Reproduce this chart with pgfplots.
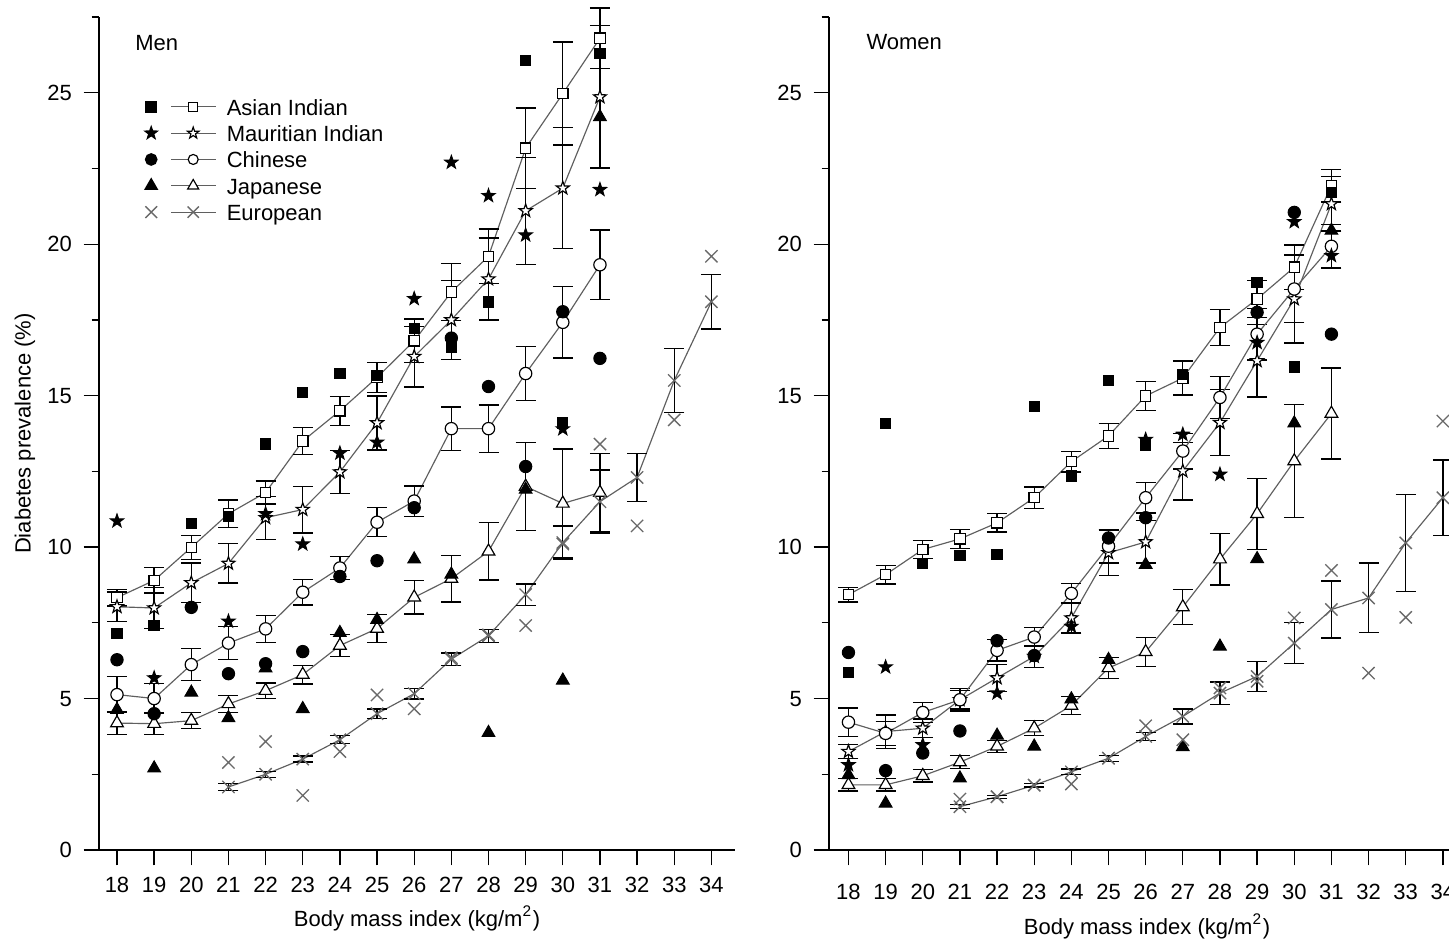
\documentclass[border=0pt]{standalone}
\usepackage{fontspec}
\setmainfont{Liberation Sans}
\usepackage{pgfplots}
\pgfplotsset{compat=1.18}
\definecolor{linegray}{RGB}{95,95,95}
\definecolor{eurgray}{RGB}{105,105,105}
\newcommand{\fs}{\fontsize{6.6}{7.5}\selectfont}
\pgfdeclareplotmark{pstar}{%
  \pgfpathmoveto{\pgfpointpolar{90}{\pgfplotmarksize}}%
  \pgfpathlineto{\pgfpointpolar{126}{0.40\pgfplotmarksize}}%
  \pgfpathlineto{\pgfpointpolar{162}{\pgfplotmarksize}}%
  \pgfpathlineto{\pgfpointpolar{198}{0.40\pgfplotmarksize}}%
  \pgfpathlineto{\pgfpointpolar{234}{\pgfplotmarksize}}%
  \pgfpathlineto{\pgfpointpolar{270}{0.40\pgfplotmarksize}}%
  \pgfpathlineto{\pgfpointpolar{306}{\pgfplotmarksize}}%
  \pgfpathlineto{\pgfpointpolar{342}{0.40\pgfplotmarksize}}%
  \pgfpathlineto{\pgfpointpolar{18}{\pgfplotmarksize}}%
  \pgfpathlineto{\pgfpointpolar{54}{0.40\pgfplotmarksize}}%
  \pgfpathclose
  \pgfusepathqfillstroke
}
\pgfplotsset{
  panel/.style={
    scale only axis, width=190.8pt, height=249.9pt,
    ymin=0, ymax=27.5,
    axis x line*=bottom, axis y line*=left,
    axis line style={line width=0.45pt},
    tick align=outside, major tick length=4.6pt, minor tick length=2.2pt,
    tick style={black, line width=0.4pt},
    xtick={18,...,34}, ytick={0,5,...,25}, minor ytick={2.5,7.5,...,27.5},
    tick label style={font=\fs},
    /pgf/number format/assume math mode=true,
    label style={font=\fs},
    xlabel={Body mass index (kg/m\textsuperscript{2})},
    clip=false,
  },
  openser/.style={linegray, line width=0.35pt,
     mark options={solid, draw=black, fill=white, line width=0.35pt},
     error bars/y dir=both, error bars/y explicit,
     error bars/error bar style={black, line width=0.4pt},
     error bars/error mark options={black, line width=0.4pt, mark size=3pt, rotate=90}},
  dots/.style={only marks, mark options={draw=black, fill=black, line width=0.3pt}},
  mAI/.style={mark=square*, mark size=1.55pt},
  mMI/.style={mark=pstar, mark size=2.05pt},
  mCH/.style={mark=*, mark size=1.85pt},
  mJP/.style={mark=triangle*, mark size=2.2pt},
  mEU/.style={mark=x, mark size=2.6pt},
}
\begin{document}
\begin{tikzpicture}
% ---------------- MEN ----------------
\begin{axis}[panel, at={(29.7pt,26.7pt)}, anchor=south west,
  xmin=17.5155, xmax=34.635,
  ylabel={Diabetes prevalence (\%)},
  ylabel style={at={(axis description cs:-0.1164,0.5)}, anchor=center},
  xlabel style={at={(axis description cs:0.5,-0.0816)}, anchor=center},
  legend style={draw=none, fill=none, at={(axis description cs:0.0715,0.903)}, anchor=north west,
     inner sep=0pt, font=\fs, row sep=2.9pt, column sep=3.0pt,
     nodes={inner sep=0pt, text height=5pt, text depth=0pt}},
  legend cell align=left]
\addlegendimage{legend image code/.code={
  \draw[mark=square*, mark size=1.55pt, mark options={fill=black, draw=black}] plot coordinates {(0pt,0pt)};
  \draw[linegray, line width=0.35pt] (6pt,0pt) -- (19.5pt,0pt);
  \draw[mark=square*, mark size=1.3pt, mark options={fill=white, draw=black, line width=0.35pt}] plot coordinates {(12.6pt,0pt)};}}
\addlegendentry{Asian Indian}
\addlegendimage{legend image code/.code={
  \draw[mark=pstar, mark size=1.9pt, mark options={fill=black, draw=black}] plot coordinates {(0pt,0pt)};
  \draw[linegray, line width=0.35pt] (6pt,0pt) -- (19.5pt,0pt);
  \draw[mark=pstar, mark size=1.8pt, mark options={fill=white, draw=black, line width=0.35pt}] plot coordinates {(12.6pt,0pt)};}}
\addlegendentry{Mauritian Indian}
\addlegendimage{legend image code/.code={
  \draw[mark=*, mark size=1.7pt, mark options={fill=black, draw=black}] plot coordinates {(0pt,0pt)};
  \draw[linegray, line width=0.35pt] (6pt,0pt) -- (19.5pt,0pt);
  \draw[mark=*, mark size=1.5pt, mark options={fill=white, draw=black, line width=0.35pt}] plot coordinates {(12.6pt,0pt)};}}
\addlegendentry{Chinese}
\addlegendimage{legend image code/.code={
  \draw[mark=triangle*, mark size=2.1pt, mark options={fill=black, draw=black}] plot coordinates {(0pt,0pt)};
  \draw[linegray, line width=0.35pt] (6pt,0pt) -- (19.5pt,0pt);
  \draw[mark=triangle*, mark size=1.9pt, mark options={fill=white, draw=black, line width=0.35pt}] plot coordinates {(12.6pt,0pt)};}}
\addlegendentry{Japanese}
\addlegendimage{legend image code/.code={
  \draw[mark=x, mark size=2.5pt, mark options={draw=eurgray, line width=0.4pt}] plot coordinates {(0pt,0pt)};
  \draw[linegray, line width=0.35pt] (6pt,0pt) -- (19.5pt,0pt);
  \draw[mark=x, mark size=2.4pt, mark options={draw=eurgray, line width=0.4pt}] plot coordinates {(12.6pt,0pt)};}}
\addlegendentry{European}

% open series with error bars (Men)
\addplot[openser, mAI, forget plot] coordinates {
 (18,8.33) +- (0,0.27) (19,8.90) +- (0,0.42) (20,9.99) +- (0,0.40) (21,11.10) +- (0,0.45)
 (22,11.80) +- (0,0.38) (23,13.50) +- (0,0.44) (24,14.50) +- (0,0.48) (25,15.60) +- (0,0.50)
 (26,16.81) +- (0,0.72) (27,18.42) +- (0,0.95) (28,19.60) +- (0,0.90) (29,23.17) +- (0,1.33)
 (30,24.97) +- (0,1.70) (31,26.80) +- (0,1.00)};
\addplot[openser, mMI, forget plot] coordinates {
 (18,8.03) +- (0,0.49) (19,7.99) +- (0,0.68) (20,8.82) +- (0,0.66) (21,9.46) +- (0,0.65)
 (22,10.97) +- (0,0.71) (23,11.24) +- (0,0.77) (24,12.48) +- (0,0.70) (25,14.10) +- (0,0.89)
 (26,16.29) +- (0,1.00) (27,17.50) +- (0,1.30) (28,18.85) +- (0,1.35) (29,21.10) +- (0,1.77)
 (30,21.85) +- (0,2.00) (31,24.86) +- (0,2.35)};
\addplot[openser, mCH, forget plot] coordinates {
 (18,5.13) +- (0,0.60) (19,5.00) +- (0,0.50) (20,6.12) +- (0,0.53) (21,6.83) +- (0,0.55)
 (22,7.30) +- (0,0.44) (23,8.51) +- (0,0.42) (24,9.31) +- (0,0.37) (25,10.82) +- (0,0.48)
 (26,11.52) +- (0,0.50) (27,13.91) +- (0,0.72) (28,13.91) +- (0,0.78) (29,15.73) +- (0,0.90)
 (30,17.42) +- (0,1.18) (31,19.32) +- (0,1.15)};
\addplot[openser, mJP, forget plot] coordinates {
 (18,4.19) +- (0,0.37) (19,4.17) +- (0,0.35) (20,4.27) +- (0,0.26) (21,4.82) +- (0,0.28)
 (22,5.26) +- (0,0.25) (23,5.79) +- (0,0.31) (24,6.75) +- (0,0.36) (25,7.31) +- (0,0.46)
 (26,8.34) +- (0,0.55) (27,8.96) +- (0,0.77) (28,9.86) +- (0,0.95) (29,12.00) +- (0,1.46)
 (30,11.44) +- (0,1.80) (31,11.80) +- (0,1.30)};
\addplot[openser, mEU, mark options={draw=eurgray, line width=0.4pt}, forget plot] coordinates {
 (21,2.08) +- (0,0.12) (22,2.50) +- (0,0.10) (23,3.00) +- (0,0.10) (24,3.64) +- (0,0.13)
 (25,4.50) +- (0,0.15) (26,5.16) +- (0,0.17) (27,6.30) +- (0,0.20) (28,7.07) +- (0,0.22)
 (29,8.43) +- (0,0.35) (30,10.15) +- (0,0.55) (31,11.50) +- (0,1.05) (32,12.30) +- (0,0.80)
 (33,15.50) +- (0,1.05) (34,18.10) +- (0,0.90)};
% filled markers (Men)
\addplot[dots, mAI, forget plot] coordinates {
 (18,7.14) (19,7.41) (20,10.77) (21,11.0) (22,13.4) (23,15.1) (24,15.72) (25,15.67)
 (26,17.22) (27,16.6) (28,18.09) (29,26.06) (30,14.1) (31,26.3)};
\addplot[dots, mMI, mark size=2.1pt, forget plot] coordinates {
 (18,10.86) (19,5.68) (21,7.55) (22,11.1) (23,10.1) (24,13.1) (25,13.46)
 (26,18.2) (27,22.7) (28,21.6) (29,20.3) (30,13.9) (31,21.8)};
\addplot[dots, mCH, forget plot] coordinates {
 (18,6.28) (19,4.5) (20,8.01) (21,5.82) (22,6.15) (23,6.55) (24,9.03) (25,9.55)
 (26,11.3) (27,16.9) (28,15.3) (29,12.66) (30,17.77) (31,16.23)};
\addplot[dots, mJP, forget plot] coordinates {
 (18,4.63) (19,2.7) (20,5.2) (21,4.36) (22,6.0) (23,4.66) (24,7.17) (25,7.6)
 (26,9.6) (27,9.1) (28,3.87) (29,11.9) (30,5.6) (31,24.2)};
\addplot[only marks, mEU, mark options={draw=eurgray, line width=0.4pt}, forget plot] coordinates {
 (21,2.89) (22,3.58) (23,1.8) (24,3.25) (25,5.12) (26,4.66) (27,6.35) (28,7.1)
 (29,7.41) (30,10.1) (31,13.4) (32,10.7) (33,14.2) (34,19.6)};
\node[anchor=west, inner sep=0pt, font=\fs] at (axis description cs:0.056,0.969) {Men};
\end{axis}

% ---------------- WOMEN ----------------
\begin{axis}[panel, at={(248.7pt,26.7pt)}, anchor=south west,
  xmin=17.476, xmax=34.596,
  xticklabel style={yshift=-2.1pt},
  xlabel style={at={(axis description cs:0.5,-0.0912)}, anchor=center}]
\addplot[openser, mAI, forget plot] coordinates {
 (18,8.43) +- (0,0.24) (19,9.09) +- (0,0.31) (20,9.92) +- (0,0.30) (21,10.27) +- (0,0.32)
 (22,10.80) +- (0,0.30) (23,11.63) +- (0,0.35) (24,12.82) +- (0,0.34) (25,13.67) +- (0,0.41)
 (26,14.99) +- (0,0.48) (27,15.58) +- (0,0.56) (28,17.25) +- (0,0.60) (29,18.19) +- (0,0.62)
 (30,19.24) +- (0,0.73) (31,21.93) +- (0,0.54)};
\addplot[openser, mMI, forget plot] coordinates {
 (18,3.25) +- (0,0.23) (19,3.91) +- (0,0.55) (20,4.02) +- (0,0.30) (21,4.96) +- (0,0.37)
 (22,5.68) +- (0,0.45) (23,6.39) +- (0,0.37) (24,7.66) +- (0,0.50) (25,9.81) +- (0,0.75)
 (26,10.17) +- (0,0.70) (27,12.51) +- (0,0.95) (28,14.11) +- (0,1.09) (29,16.15) +- (0,1.20)
 (30,18.19) +- (0,1.45) (31,21.33) +- (0,0.90)};
\addplot[openser, mCH, forget plot] coordinates {
 (18,4.22) +- (0,0.47) (19,3.85) +- (0,0.40) (20,4.54) +- (0,0.34) (21,4.96) +- (0,0.30)
 (22,6.59) +- (0,0.35) (23,7.03) +- (0,0.32) (24,8.47) +- (0,0.32) (25,10.03) +- (0,0.55)
 (26,11.63) +- (0,0.50) (27,13.17) +- (0,0.59) (28,14.94) +- (0,0.70) (29,17.03) +- (0,0.85)
 (30,18.52) +- (0,1.10) (31,19.93) +- (0,0.72)};
\addplot[openser, mJP, forget plot] coordinates {
 (18,2.15) +- (0,0.20) (19,2.15) +- (0,0.20) (20,2.45) +- (0,0.20) (21,2.90) +- (0,0.21)
 (22,3.42) +- (0,0.20) (23,4.02) +- (0,0.25) (24,4.77) +- (0,0.29) (25,6.01) +- (0,0.34)
 (26,6.54) +- (0,0.48) (27,8.02) +- (0,0.58) (28,9.60) +- (0,0.85) (29,11.10) +- (0,1.17)
 (30,12.84) +- (0,1.86) (31,14.41) +- (0,1.50)};
\addplot[openser, mEU, mark options={draw=eurgray, line width=0.4pt}, forget plot] coordinates {
 (21,1.43) +- (0,0.07) (22,1.76) +- (0,0.05) (23,2.14) +- (0,0.06) (24,2.58) +- (0,0.09)
 (25,3.03) +- (0,0.10) (26,3.75) +- (0,0.13) (27,4.41) +- (0,0.25) (28,5.18) +- (0,0.37)
 (29,5.73) +- (0,0.50) (30,6.83) +- (0,0.67) (31,7.94) +- (0,0.94) (32,8.32) +- (0,1.15)
 (33,10.14) +- (0,1.60) (34,11.63) +- (0,1.24)};
\addplot[dots, mAI, forget plot] coordinates {
 (18,5.87) (19,14.08) (20,9.45) (21,9.72) (22,9.76) (23,14.64) (24,12.35) (25,15.49)
 (26,13.37) (27,15.69) (29,18.73) (30,15.95) (31,21.7)};
\addplot[dots, mMI, mark size=2.1pt, forget plot] coordinates {
 (18,2.81) (19,6.04) (20,3.47) (22,5.18) (24,7.38) (26,13.55) (27,13.72) (28,12.4)
 (29,16.75) (30,20.74) (31,19.62)};
\addplot[dots, mCH, forget plot] coordinates {
 (18,6.52) (19,2.62) (20,3.2) (21,3.93) (22,6.91) (23,6.42) (25,10.3) (26,10.97)
 (29,17.75) (30,21.05) (31,17.03)};
\addplot[dots, mJP, forget plot] coordinates {
 (18,2.48) (19,1.54) (21,2.37) (22,3.78) (23,3.42) (24,4.98) (25,6.28) (26,9.42)
 (27,3.4) (28,6.72) (29,9.61) (30,14.09) (31,20.45)};
\addplot[only marks, mEU, mark options={draw=eurgray, line width=0.4pt}, forget plot] coordinates {
 (21,1.68) (22,1.76) (23,2.14) (24,2.18) (25,3.03) (26,4.1) (27,3.64) (28,5.35)
 (29,5.57) (30,7.66) (31,9.23) (32,5.84) (33,7.68) (34,14.16)};
\node[anchor=west, inner sep=0pt, font=\fs] at (axis description cs:0.058,0.970) {Women};
\end{axis}
\pgfresetboundingbox
\path[use as bounding box] (0,0) rectangle (434.7pt,281.7pt);
\end{tikzpicture}
\end{document}
